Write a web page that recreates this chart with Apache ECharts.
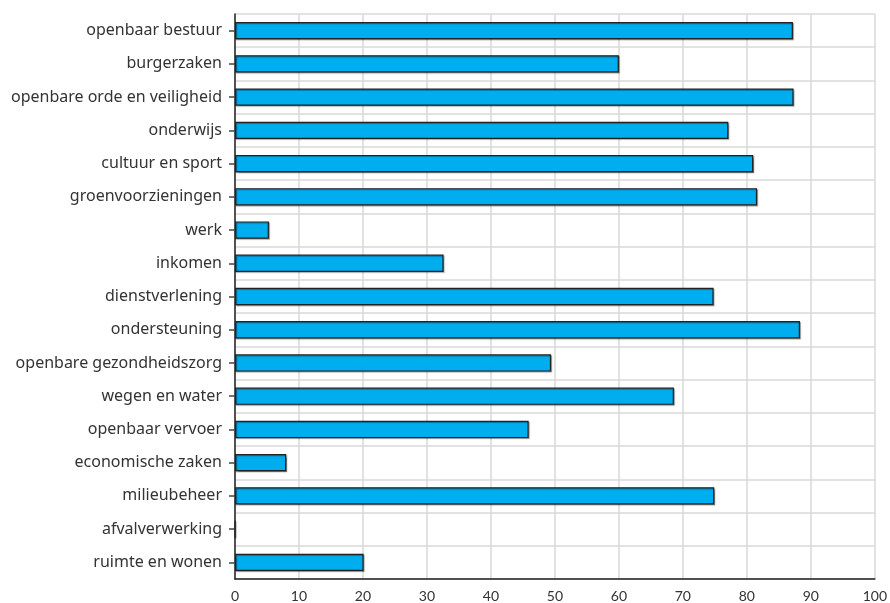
<!DOCTYPE html>
<html>
<head>
<meta charset="utf-8">
<script src="https://cdn.jsdelivr.net/npm/echarts@6/dist/echarts.min.js"></script>
<style>html,body{margin:0;padding:0;background:#fff}#c{width:890px;height:603px}</style>
</head>
<body>
<div id="c"></div>
<script>
const categories = [
  "openbaar bestuur","burgerzaken","openbare orde en veiligheid","onderwijs",
  "cultuur en sport","groenvoorzieningen","werk","inkomen","dienstverlening",
  "ondersteuning","openbare gezondheidszorg","wegen en water","openbaar vervoer",
  "economische zaken","milieubeheer","afvalverwerking","ruimte en wonen"
];
const values = [87.2,60.0,87.3,77.1,81.0,81.6,5.3,32.6,74.8,88.3,49.4,68.6,45.9,8.0,74.9,0,20.1];
const xTicks = [0,10,20,30,40,50,60,70,80,90,100];

const chart = echarts.init(document.getElementById('c'), null, {renderer:'canvas'});
chart.setOption({
  animation:false,
  grid:{left:235,right:12,top:14,bottom:22,containLabel:false},
  xAxis:{
    type:'value',min:xTicks[0],max:xTicks[xTicks.length-1],interval:10,
    axisLine:{show:true,lineStyle:{color:'#222',width:1.5}},
    axisTick:{show:false},
    axisLabel:{color:'#333',fontSize:14,fontFamily:'Lato',margin:10},
    splitLine:{show:true,lineStyle:{color:'#d9d9d9',width:1.5}}
  },
  yAxis:{
    type:'category',data:categories,inverse:true,
    axisLine:{show:true,lineStyle:{color:'#222',width:1.5}},
    axisTick:{show:true,alignWithLabel:true,length:6,lineStyle:{color:'#444',width:1.5}},
    axisLabel:{color:'#333',fontSize:16,fontFamily:'Noto Sans',margin:13},
    splitLine:{show:true,lineStyle:{color:'#d9d9d9',width:1.5}}
  },
  series:[{
    type:'bar',data:values,barWidth:'52%',
    itemStyle:{color:'#00aeef',borderColor:'#222',borderWidth:1.2,
      shadowColor:'rgba(0,0,0,0.35)',shadowBlur:1,shadowOffsetX:1,shadowOffsetY:1}
  }]
});
</script>
</body>
</html>
